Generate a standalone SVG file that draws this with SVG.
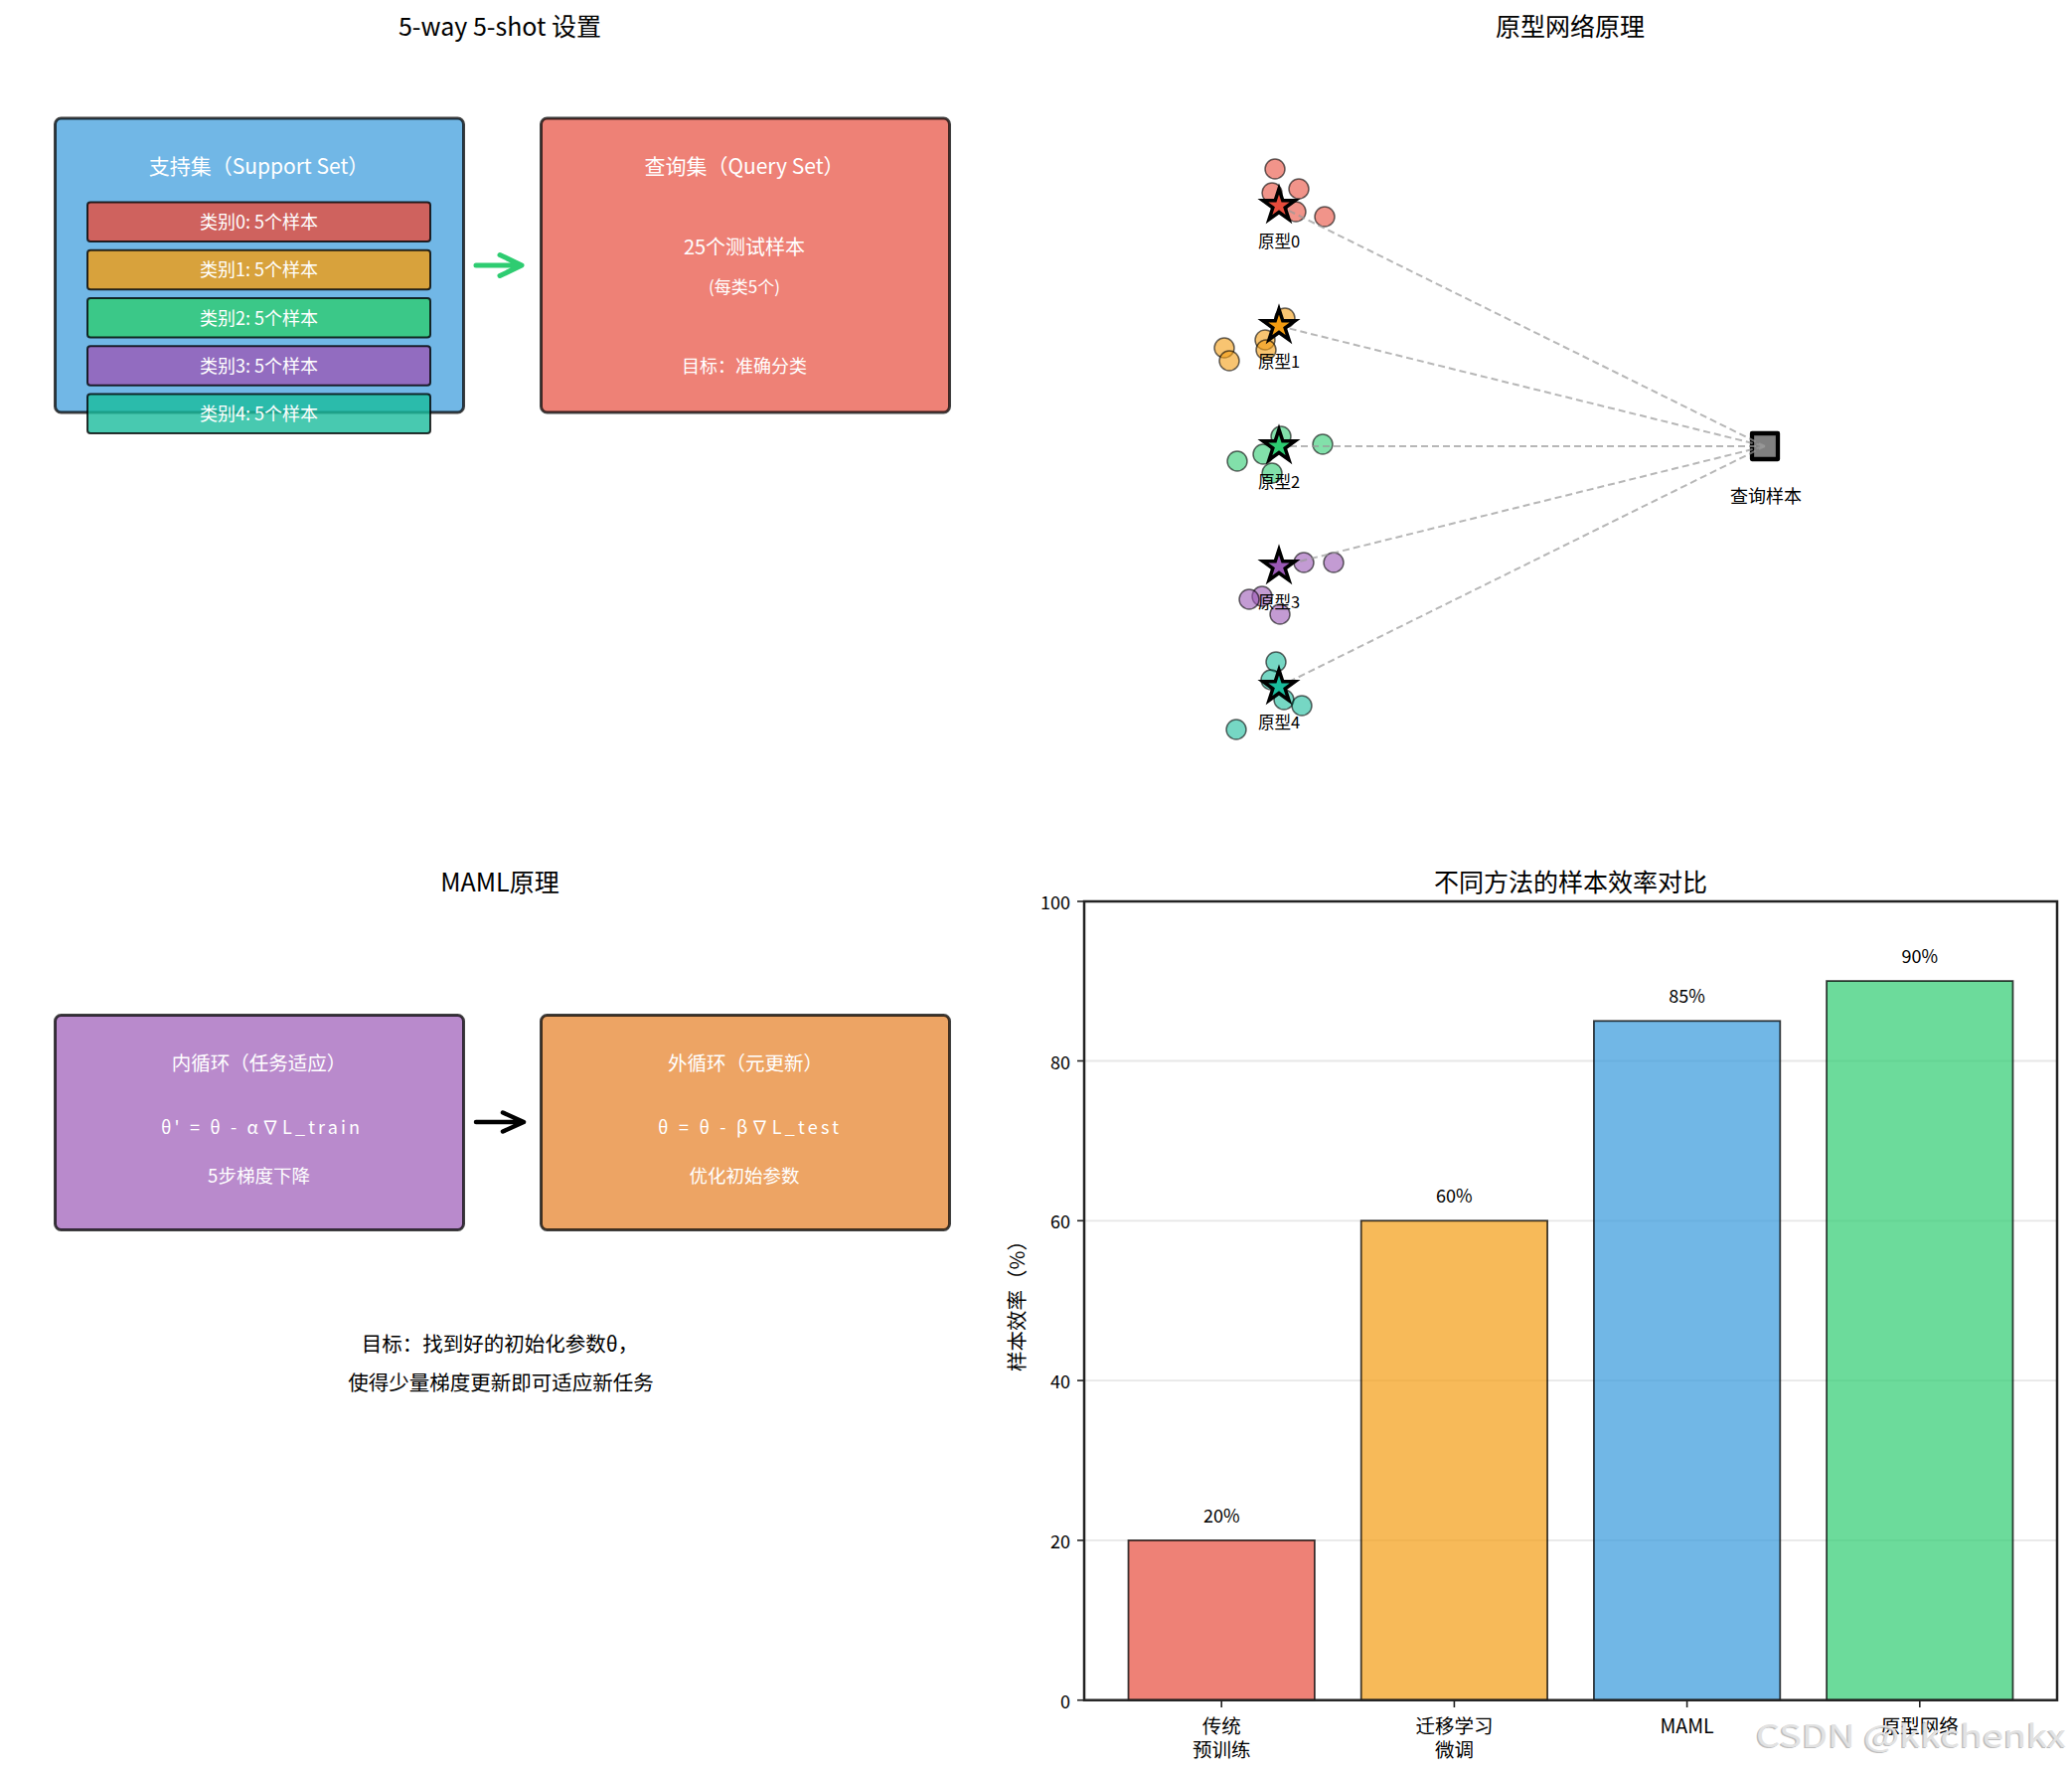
<svg xmlns="http://www.w3.org/2000/svg" width="2085" height="1784" viewBox="0 0 2085 1784">
<style>
text { font-family: "Noto Sans CJK SC", "DejaVu Sans", sans-serif; text-anchor: middle; dominant-baseline: central; }
.title { font-size: 25px; fill: #000; }
.w { fill: #fff; }
.box { stroke: #000; stroke-opacity: 0.75; stroke-width: 3; fill-opacity: 0.7; }
.cls { stroke: #000; stroke-opacity: 0.8; stroke-width: 2; fill-opacity: 0.8; }
.pt { stroke: #000; stroke-opacity: 0.6; stroke-width: 1.5; fill-opacity: 0.6; }
.star { stroke: #000; stroke-width: 3.5; stroke-linejoin: miter; }
.dash { stroke: #999; stroke-opacity: 0.7; stroke-width: 2; stroke-dasharray: 7 4; fill: none; }
.bar { stroke: #000; stroke-opacity: 0.75; stroke-width: 1.8; fill-opacity: 0.7; }
.grid { stroke: #b0b0b0; stroke-opacity: 0.3; stroke-width: 1.8; }
.spine { stroke: #222; stroke-width: 2.5; fill: none; }
.tick { stroke: #222; stroke-width: 1.6; }
.tl { font-size: 18px; fill: #000; }
.xl { font-size: 19.5px; fill: #000; }
</style>
<defs>
<path id="starShape" d="M0,-17 L3.82,-5.25 L16.17,-5.25 L6.17,2.01 L9.99,13.75 L0,6.49 L-9.99,13.75 L-6.17,2.01 L-16.17,-5.25 L-3.82,-5.25 Z"/>
</defs>
<rect x="0" y="0" width="2085" height="1784" fill="#fff"/>

<!-- Panel 1: 5-way 5-shot -->
<text class="title" x="503" y="24.5">5-way 5-shot 设置</text>
<g id="support-set">
  <rect class="box" x="55.5" y="119" width="411" height="296" rx="6" fill="#3498db"/>
  <text class="w" x="260.5" y="166" font-size="21">支持集（Support Set）</text>
</g>
<g id="class0">
  <rect class="cls" x="88" y="203.5" width="345" height="39.5" rx="3" fill="#e74c3c"/>
  <text class="w" x="260.5" y="221.5" font-size="18">类别0: 5个样本</text>
</g>
<g id="class1">
  <rect class="cls" x="88" y="251.7" width="345" height="39.5" rx="3" fill="#f39c12"/>
  <text class="w" x="260.5" y="270" font-size="18">类别1: 5个样本</text>
</g>
<g id="class2">
  <rect class="cls" x="88" y="300" width="345" height="39.5" rx="3" fill="#2ecc71"/>
  <text class="w" x="260.5" y="318.5" font-size="18">类别2: 5个样本</text>
</g>
<g id="class3">
  <rect class="cls" x="88" y="348.2" width="345" height="39.5" rx="3" fill="#9b59b6"/>
  <text class="w" x="260.5" y="366.5" font-size="18">类别3: 5个样本</text>
</g>
<g id="class4">
  <rect class="cls" x="88" y="396.5" width="345" height="39.5" rx="3" fill="#1abc9c"/>
  <text class="w" x="260.5" y="415" font-size="18">类别4: 5个样本</text>
</g>
<g id="query-set">
  <rect class="box" x="544.5" y="119" width="411" height="296" rx="6" fill="#e74c3c"/>
  <text class="w" x="749" y="166" font-size="21">查询集（Query Set）</text>
  <text class="w" x="749" y="247" font-size="20">25个测试样本</text>
  <text class="w" x="749" y="287" font-size="17">(每类5个)</text>
  <text class="w" x="749" y="367" font-size="18">目标：准确分类</text>
</g>

<!-- Panel 3: MAML -->
<text class="title" x="503" y="885.5">MAML原理</text>
<g id="inner-loop">
  <rect class="box" x="55.5" y="1021.5" width="411" height="216" rx="6" fill="#9b59b6"/>
  <text class="w" x="260.5" y="1068" font-size="19.5">内循环（任务适应）</text>
  <text class="w" x="262" y="1132.5" font-size="18" textLength="200" lengthAdjust="spacing">θ' = θ - α∇L_train</text>
  <text class="w" x="260.5" y="1182" font-size="18.5">5步梯度下降</text>
</g>
<g id="outer-loop">
  <rect class="box" x="544.5" y="1021.5" width="411" height="216" rx="6" fill="#e67e22"/>
  <text class="w" x="750" y="1068" font-size="19.5">外循环（元更新）</text>
  <text class="w" x="753" y="1132.5" font-size="18" textLength="182" lengthAdjust="spacing">θ = θ - β∇L_test</text>
  <text class="w" x="749" y="1182" font-size="18.5">优化初始参数</text>
</g>
<g id="maml-goal">
  <text x="503" y="1351" font-size="20.5" fill="#000">目标：找到好的初始化参数θ，</text>
  <text x="504" y="1390" font-size="20.5" fill="#000">使得少量梯度更新即可适应新任务</text>
</g>

<!-- Panel 2: prototypical network -->
<text class="title" x="1580" y="24.5">原型网络原理</text>
<g id="support-points">
  <g fill="#e74c3c">
    <circle class="pt" cx="1283" cy="170" r="10"/>
    <circle class="pt" cx="1307" cy="190" r="10"/>
    <circle class="pt" cx="1280" cy="194" r="10"/>
    <circle class="pt" cx="1304" cy="213" r="10"/>
    <circle class="pt" cx="1333" cy="218" r="10"/>
  </g>
  <g fill="#f39c12">
    <circle class="pt" cx="1293" cy="320" r="10"/>
    <circle class="pt" cx="1273" cy="342" r="10"/>
    <circle class="pt" cx="1274" cy="352" r="10"/>
    <circle class="pt" cx="1232" cy="350" r="10"/>
    <circle class="pt" cx="1237" cy="363" r="10"/>
  </g>
  <g fill="#2ecc71">
    <circle class="pt" cx="1289" cy="439" r="10"/>
    <circle class="pt" cx="1331" cy="447" r="10"/>
    <circle class="pt" cx="1271" cy="457" r="10"/>
    <circle class="pt" cx="1245" cy="464" r="10"/>
    <circle class="pt" cx="1280" cy="476" r="10"/>
  </g>
  <g fill="#9b59b6">
    <circle class="pt" cx="1312" cy="566" r="10"/>
    <circle class="pt" cx="1342" cy="566" r="10"/>
    <circle class="pt" cx="1270" cy="600" r="10"/>
    <circle class="pt" cx="1257" cy="603" r="10"/>
    <circle class="pt" cx="1288" cy="618" r="10"/>
  </g>
  <g fill="#1abc9c">
    <circle class="pt" cx="1284" cy="666" r="10"/>
    <circle class="pt" cx="1279" cy="684" r="10"/>
    <circle class="pt" cx="1292" cy="704" r="10"/>
    <circle class="pt" cx="1310" cy="710" r="10"/>
    <circle class="pt" cx="1244" cy="734" r="10"/>
  </g>
</g>
<g id="query-sample">
  <rect x="1763" y="436" width="26" height="26" fill="#808080" stroke="#000" stroke-width="4.3" stroke-linejoin="round"/>
  <text x="1777" y="498" font-size="18" fill="#000">查询样本</text>
</g>
<g id="connectors">
  <line class="dash" x1="1287" y1="207" x2="1776" y2="449"/>
  <line class="dash" x1="1287" y1="328" x2="1776" y2="449"/>
  <line class="dash" x1="1287" y1="449" x2="1776" y2="449"/>
  <line class="dash" x1="1287" y1="570" x2="1776" y2="449"/>
  <line class="dash" x1="1287" y1="691" x2="1776" y2="449"/>
  <path d="M479,267 H524 M503,256.5 L525,267 L503,277.5" fill="none" stroke="#2ecc71" stroke-width="5" stroke-linecap="round" stroke-linejoin="round"/>
  <path d="M479,1129 H526 M506,1119.5 L527,1129 L506,1138.5" fill="none" stroke="#000" stroke-width="4.5" stroke-linecap="round" stroke-linejoin="round"/>
</g>
<g id="prototype0">
  <use href="#starShape" class="star" x="1287" y="207" fill="#e74c3c"/>
  <text x="1287" y="241.5" font-size="16.5" fill="#000">原型0</text>
</g>
<g id="prototype1">
  <use href="#starShape" class="star" x="1287" y="328" fill="#f39c12"/>
  <text x="1287" y="362.5" font-size="16.5" fill="#000">原型1</text>
</g>
<g id="prototype2">
  <use href="#starShape" class="star" x="1287" y="449" fill="#2ecc71"/>
  <text x="1287" y="483.5" font-size="16.5" fill="#000">原型2</text>
</g>
<g id="prototype3">
  <use href="#starShape" class="star" x="1287" y="570" fill="#9b59b6"/>
  <text x="1287" y="604.5" font-size="16.5" fill="#000">原型3</text>
</g>
<g id="prototype4">
  <use href="#starShape" class="star" x="1287" y="691" fill="#1abc9c"/>
  <text x="1287" y="725.5" font-size="16.5" fill="#000">原型4</text>
</g>

<!-- Panel 4: bar chart -->
<g id="bar-chart">
  <text class="title" x="1580.5" y="885.5">不同方法的样本效率对比</text>
  <g id="gridlines">
    <line class="grid" x1="1091" y1="1549.9" x2="2070" y2="1549.9"/>
    <line class="grid" x1="1091" y1="1389.1" x2="2070" y2="1389.1"/>
    <line class="grid" x1="1091" y1="1228.3" x2="2070" y2="1228.3"/>
    <line class="grid" x1="1091" y1="1067.5" x2="2070" y2="1067.5"/>
  </g>
  <g id="bar-traditional">
    <rect class="bar" x="1135.5" y="1549.9" width="187.4" height="160.8" fill="#e74c3c"/>
    <text class="tl" x="1229.2" y="1524">20%</text>
  </g>
  <g id="bar-transfer">
    <rect class="bar" x="1369.7" y="1228.3" width="187.4" height="482.4" fill="#f39c12"/>
    <text class="tl" x="1463.4" y="1202">60%</text>
  </g>
  <g id="bar-maml">
    <rect class="bar" x="1603.9" y="1027.3" width="187.4" height="683.4" fill="#3498db"/>
    <text class="tl" x="1697.6" y="1001">85%</text>
  </g>
  <g id="bar-proto">
    <rect class="bar" x="1838.1" y="987.1" width="187.4" height="723.6" fill="#2ecc71"/>
    <text class="tl" x="1931.8" y="961">90%</text>
  </g>
  <rect class="spine" x="1091" y="907" width="979" height="803.7"/>
  <g id="yticks">
    <line class="tick" x1="1084" y1="1710.7" x2="1091" y2="1710.7"/>
    <line class="tick" x1="1084" y1="1549.9" x2="1091" y2="1549.9"/>
    <line class="tick" x1="1084" y1="1389.1" x2="1091" y2="1389.1"/>
    <line class="tick" x1="1084" y1="1228.3" x2="1091" y2="1228.3"/>
    <line class="tick" x1="1084" y1="1067.5" x2="1091" y2="1067.5"/>
    <line class="tick" x1="1084" y1="907" x2="1091" y2="907"/>
    <text class="tl" x="1077" y="1710.7" style="text-anchor:end">0</text>
    <text class="tl" x="1077" y="1549.9" style="text-anchor:end">20</text>
    <text class="tl" x="1077" y="1389.1" style="text-anchor:end">40</text>
    <text class="tl" x="1077" y="1228.3" style="text-anchor:end">60</text>
    <text class="tl" x="1077" y="1067.5" style="text-anchor:end">80</text>
    <text class="tl" x="1077" y="907" style="text-anchor:end">100</text>
  </g>
  <g id="xticks">
    <line class="tick" x1="1229.2" y1="1711" x2="1229.2" y2="1718"/>
    <line class="tick" x1="1463.4" y1="1711" x2="1463.4" y2="1718"/>
    <line class="tick" x1="1697.6" y1="1711" x2="1697.6" y2="1718"/>
    <line class="tick" x1="1931.8" y1="1711" x2="1931.8" y2="1718"/>
    <text class="xl" x="1229.2" y="1735.5">传统</text>
    <text class="xl" x="1229.2" y="1759.5">预训练</text>
    <text class="xl" x="1463.4" y="1735.5">迁移学习</text>
    <text class="xl" x="1463.4" y="1759.5">微调</text>
    <text class="xl" x="1697.6" y="1735">MAML</text>
    <text class="xl" x="1931.8" y="1735.5">原型网络</text>
  </g>
  <text x="1022" y="1309" font-size="20.5" fill="#000" transform="rotate(-90 1022 1309)">样本效率（%）</text>
</g>

<g id="watermark">
  <text x="1923" y="1744" font-family="Liberation Sans, sans-serif" font-size="31" fill="#a0a0a0" fill-opacity="0.7" textLength="312" lengthAdjust="spacingAndGlyphs" transform="translate(-1.5,1.5)">CSDN @kkchenkx</text>
  <text x="1923" y="1744" font-family="Liberation Sans, sans-serif" font-size="31" fill="#e2e2e2" textLength="312" lengthAdjust="spacingAndGlyphs">CSDN @kkchenkx</text>
</g>
</svg>
